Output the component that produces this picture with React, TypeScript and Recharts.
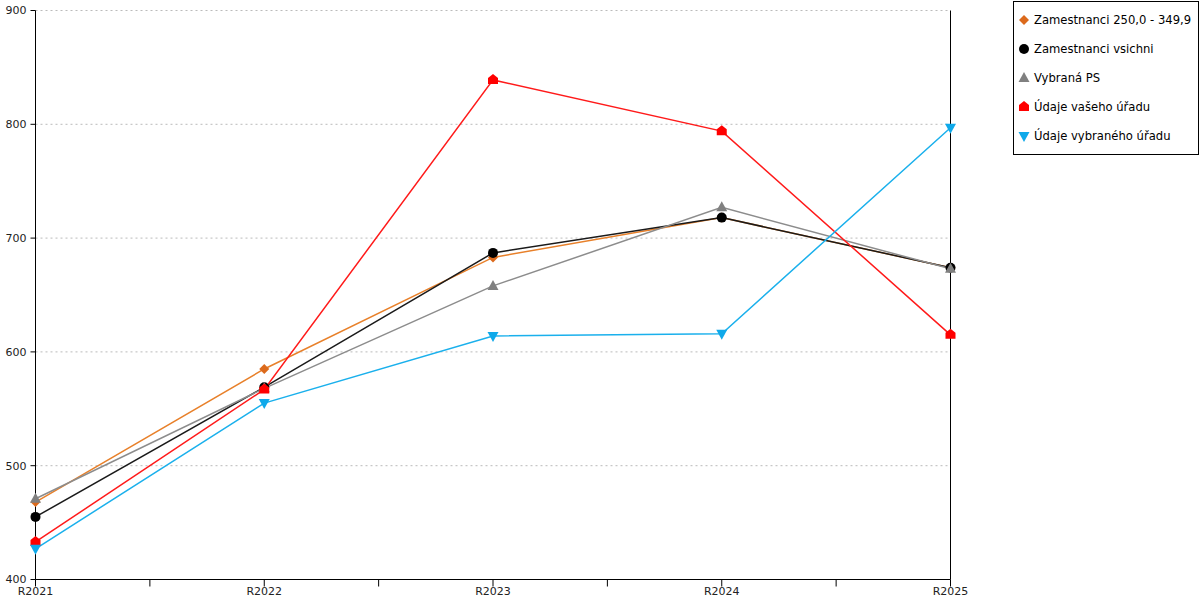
import React from 'react';
import { LineChart, Line, XAxis, YAxis, CartesianGrid, ReferenceLine } from 'recharts';

const categories = ['R2021', 'R2022', 'R2023', 'R2024', 'R2025'];
const zamestnanci250 = [468, 585, 683, 718, 674];
const zamestnanciVsichni = [455, 569, 687, 718, 674];
const vybranaPS = [471, 568, 658, 727, 673];
const udajeVaseho = [433, 567, 839, 794, 615];
const udajeVybraneho = [427, 555, 614, 616, 797];
const yTicks = [400, 500, 600, 700, 800, 900];
const xTicks = [0, 0.5, 1, 1.5, 2, 2.5, 3, 3.5, 4];

type Shape = 'diamond' | 'circle' | 'triangle' | 'house' | 'down';

const series: { key: string; name: string; line: string; fill: string; shape: Shape; values: number[] }[] = [
  { key: 'z250', name: 'Zamestnanci 250,0 - 349,9', line: '#e8802a', fill: '#dc6a1c', shape: 'diamond', values: zamestnanci250 },
  { key: 'zall', name: 'Zamestnanci vsichni', line: '#1a1a1a', fill: '#000000', shape: 'circle', values: zamestnanciVsichni },
  { key: 'ps', name: 'Vybraná PS', line: '#8c8c8c', fill: '#808080', shape: 'triangle', values: vybranaPS },
  { key: 'vas', name: 'Údaje vašeho úřadu', line: '#ff1a1a', fill: '#ff0000', shape: 'house', values: udajeVaseho },
  { key: 'vyb', name: 'Údaje vybraného úřadu', line: '#1ab0ec', fill: '#0fa9ea', shape: 'down', values: udajeVybraneho },
];

const data = categories.map((c, i) => {
  const row: Record<string, number | string> = { i, cat: c };
  series.forEach((s) => {
    row[s.key] = s.values[i];
  });
  return row;
});

const markerPath = (shape: Shape, cx: number, cy: number) => {
  switch (shape) {
    case 'diamond':
      return `M${cx},${cy - 5}L${cx + 5},${cy}L${cx},${cy + 5}L${cx - 5},${cy}Z`;
    case 'triangle':
      return `M${cx},${cy - 6}L${cx + 5.5},${cy + 4}L${cx - 5.5},${cy + 4}Z`;
    case 'house':
      return `M${cx},${cy - 6}L${cx + 5},${cy - 2}L${cx + 5},${cy + 4}L${cx - 5},${cy + 4}L${cx - 5},${cy - 2}Z`;
    case 'down':
      return `M${cx - 5.5},${cy - 4}L${cx + 5.5},${cy - 4}L${cx},${cy + 6}Z`;
    default:
      return '';
  }
};

const Marker = ({ shape, fill, cx, cy }: { shape: Shape; fill: string; cx: number; cy: number }) =>
  shape === 'circle' ? <circle cx={cx} cy={cy} r={5} fill={fill} /> : <path d={markerPath(shape, cx, cy)} fill={fill} />;

// legend is drawn as a plain box so it does not push the plot area
const ChartLegend = () => (
  <div
    style={{
      position: 'absolute',
      left: 1013,
      top: 1,
      width: 184,
      height: 152,
      border: '1px solid #000',
      background: '#fff',
    }}
  >
    {series.map((s, i) => (
      <div key={s.key} style={{ position: 'absolute', left: 3, top: 8 + i * 29, height: 20, display: 'flex', alignItems: 'center' }}>
        <svg width={14} height={14}>
          <Marker shape={s.shape} fill={s.fill} cx={7} cy={7} />
        </svg>
        <span style={{ marginLeft: 3, fontSize: 11.6, color: '#000', whiteSpace: 'nowrap' }}>{s.name}</span>
      </div>
    ))}
  </div>
);

export default function App() {
  return (
    <div style={{ position: 'absolute', left: 0, top: 0, width: 1200, height: 600, fontFamily: '"DejaVu Sans", sans-serif', background: '#fff' }}>
      <LineChart width={1200} height={600} data={data} margin={{ top: 10.5, right: 249.5, bottom: 0, left: 0 }}>
        <CartesianGrid vertical={false} stroke="#bbbbbb" strokeDasharray="2 3" />
        <XAxis
          dataKey="i"
          type="number"
          domain={[0, 4]}
          ticks={xTicks}
          interval={0}
          height={20.5}
          tickSize={7}
          tickMargin={1}
          tickFormatter={(v: number) => (Number.isInteger(v) ? categories[v] : '')}
          stroke="#000"
          tick={{ fill: '#222', fontSize: 11 }}
        />
        <YAxis
          domain={[400, 900]}
          ticks={yTicks}
          width={35.5}
          tickSize={5}
          tickMargin={4}
          stroke="#000"
          tick={{ fill: '#222', fontSize: 11 }}
        />
        <ReferenceLine x={4} stroke="#000" strokeWidth={1} />
        {series.map((s) => (
          <Line
            key={s.key}
            dataKey={s.key}
            name={s.name}
            stroke={s.line}
            strokeWidth={1.5}
            isAnimationActive={false}
            dot={(p: any) => <Marker key={`${s.key}-${p.index}`} shape={s.shape} fill={s.fill} cx={p.cx} cy={p.cy} />}
            activeDot={false}
          />
        ))}
      </LineChart>
      <ChartLegend />
    </div>
  );
}
